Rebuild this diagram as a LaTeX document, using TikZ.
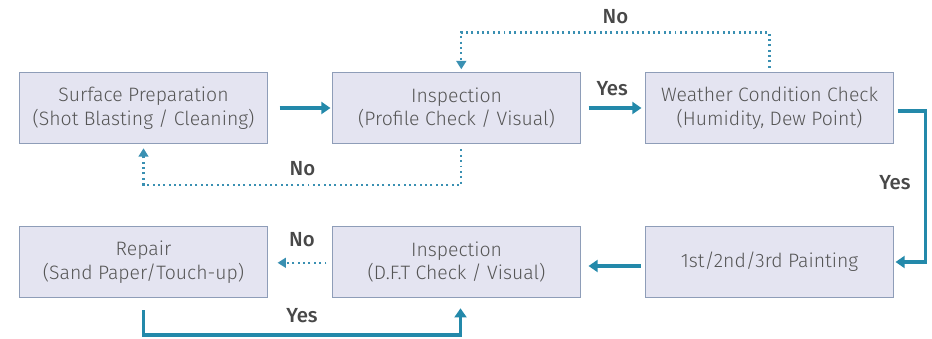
\documentclass[tikz,border=0pt]{standalone}
\usepackage{fontspec}
\setmainfont{Fira Sans}[UprightFont=* Light,BoldFont=* Medium]
\usetikzlibrary{arrows.meta,positioning,shadows}
\definecolor{flowblue}{HTML}{2389AA}
\definecolor{dotblue}{HTML}{3A90B2}
\definecolor{boxfill}{HTML}{E4E4F1}
\definecolor{boxline}{HTML}{8E9DB8}
\definecolor{txtgray}{HTML}{555555}

\begin{document}
\begin{tikzpicture}[
    x=0.025cm,y=-0.025cm,
    stepbox/.style={draw=boxline,line width=0.7pt,fill=boxfill,minimum width=6.175cm,minimum height=1.75cm,align=center,text=txtgray,font=\fontsize{13.8}{17}\selectfont,drop shadow={shadow xshift=0.6pt,shadow yshift=-0.6pt,opacity=0.25}},
    flow/.style={flowblue,line width=2.6pt,-{Triangle[length=6.5pt,width=8.5pt]}},
    back/.style={dotblue,line width=1.5pt,dash pattern=on 1.4pt off 2.4pt,-{Triangle[length=6pt,width=7pt]}},
    answer/.style={text=txtgray!85!black,font=\fontsize{14.5}{16}\bfseries}
  ]
    \useasboundingbox (0,0) rectangle (932,339);

    % top row
    \node[stepbox] (prep) at (143.5,108) {Surface Preparation\\(Shot Blasting / Cleaning)};
    \node[stepbox] (insp) at (456.5,108) {Inspection\\(Profile Check / Visual)};
    \node[stepbox] (wea) at (769.5,108) {Weather Condition Check\\(Humidity, Dew Point)};

    % bottom row
    \node[stepbox] (rep) at (143.5,262) {Repair\\(Sand Paper/Touch-up)};
    \node[stepbox] (dft) at (456.5,262) {Inspection\\(D.F.T Check / Visual)};
    \node[stepbox] (paint) at (769.5,262) {1st/2nd/3rd Painting};

    % main flow
    \draw[flow] ([xshift=0.3cm]prep.east) -- ([xshift=-0.05cm]insp.west);
    \draw[flow] ([xshift=0.2cm]insp.east) -- node[answer,above=4pt,xshift=-2pt] {Yes} ([xshift=-0.1cm]wea.west);
    \draw[flow] ([xshift=0.1cm,yshift=-0.075cm]wea.east) -- ++(0.7cm,0) |- node[answer,pos=0.237,left=6pt] {Yes} ([xshift=0.05cm]paint.east);
    \draw[flow] ([xshift=-0.12cm,yshift=-0.1cm]paint.west) -- ([xshift=0.2cm,yshift=-0.1cm]dft.west -| dft.east);
    \draw[flow] ([yshift=-0.32cm]rep.south) -- ++(0,-0.62cm) -| node[answer,pos=0.25,above=4pt] {Yes} ([xshift=0.1cm,yshift=-0.27cm]dft.south);

    % loops back
    \draw[back] ([xshift=0.12cm,yshift=-0.15cm]insp.south) -- ++(0,-0.88cm) -| node[answer,pos=0.25,above=2pt] {No} ([yshift=-0.12cm]prep.south);
    \draw[back] ([yshift=0.12cm]wea.north) -- ++(0,0.88cm) -| node[answer,pos=0.25,above=2pt] {No} ([xshift=0.12cm,yshift=0.08cm]insp.north);
    \draw[back] ([xshift=-0.15cm,yshift=-0.02cm]dft.west) -- node[answer,above=7pt] {No} ([xshift=0.25cm,yshift=-0.02cm]rep.east);
  \end{tikzpicture}
\end{document}
